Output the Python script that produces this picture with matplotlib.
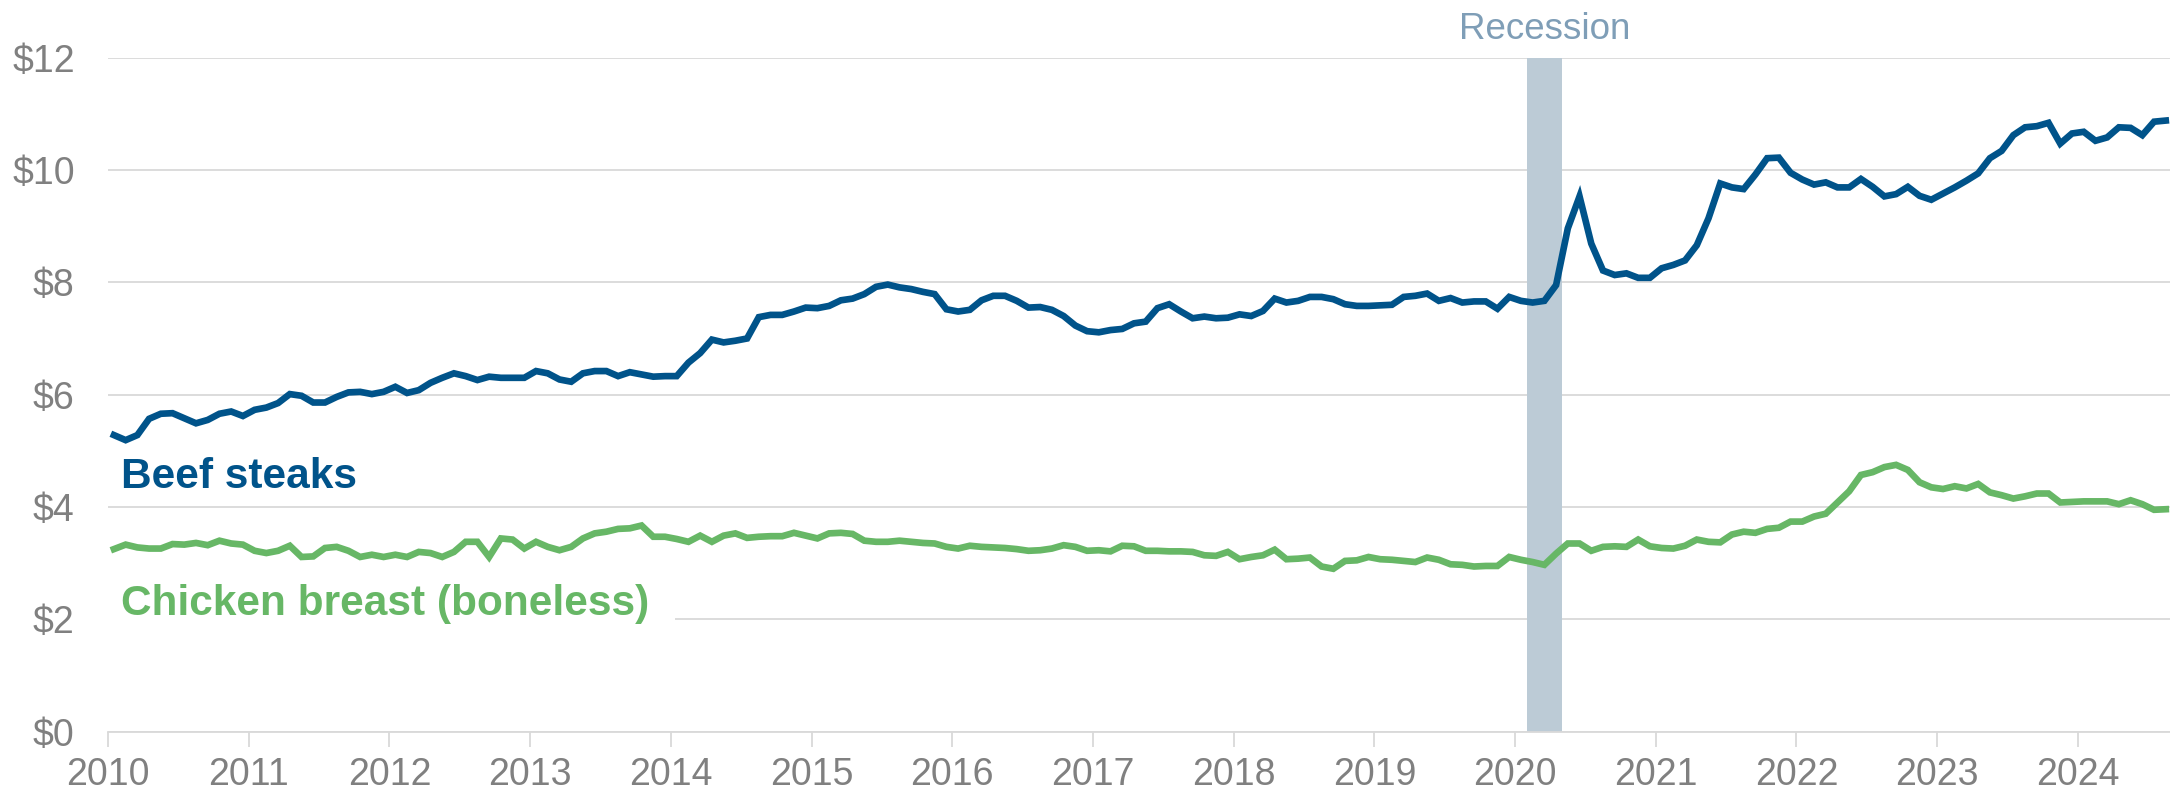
import matplotlib.pyplot as plt
import numpy as np

plt.rcParams['font.family'] = ['Liberation Sans', 'DejaVu Sans']

# monthly average retail prices, Jan 2010 - Aug 2024 ($ per pound)
beef = [
    5.28, 5.19, 5.28, 5.57, 5.66, 5.67, 5.58, 5.49, 5.55, 5.66, 5.70, 5.62,
    5.73, 5.77, 5.85, 6.01, 5.98, 5.86, 5.86, 5.96, 6.04, 6.05, 6.01, 6.05,
    6.14, 6.03, 6.08, 6.21, 6.30, 6.38, 6.33, 6.26, 6.32, 6.30, 6.30, 6.30,
    6.42, 6.38, 6.27, 6.23, 6.38, 6.42, 6.42, 6.33, 6.40, 6.36, 6.32, 6.33,
    6.33, 6.57, 6.74, 6.98, 6.93, 6.96, 7.00, 7.38, 7.42, 7.42, 7.48, 7.55,
    7.54, 7.58, 7.68, 7.71, 7.79, 7.92, 7.96, 7.91, 7.88, 7.83, 7.79, 7.52,
    7.48, 7.51, 7.68, 7.76, 7.76, 7.67, 7.55, 7.56, 7.51, 7.40, 7.23, 7.13,
    7.11, 7.15, 7.17, 7.27, 7.30, 7.54, 7.61, 7.48, 7.36, 7.39, 7.36, 7.37,
    7.43, 7.40, 7.49, 7.71, 7.64, 7.67, 7.74, 7.74, 7.70, 7.61, 7.58, 7.58,
    7.59, 7.60, 7.74, 7.76, 7.80, 7.67, 7.72, 7.64, 7.66, 7.66, 7.53, 7.74,
    7.67, 7.64, 7.67, 7.95, 8.96, 9.53, 8.69, 8.21, 8.13, 8.16, 8.08, 8.08,
    8.25, 8.31, 8.39, 8.66, 9.14, 9.76, 9.69, 9.66, 9.92, 10.21, 10.22, 9.95,
    9.83, 9.74, 9.78, 9.69, 9.69, 9.84, 9.70, 9.53, 9.57, 9.70, 9.54, 9.47,
    9.58, 9.69, 9.81, 9.94, 10.21, 10.34, 10.62, 10.76, 10.78, 10.84, 10.47, 10.65,
    10.68, 10.52, 10.58, 10.76, 10.75, 10.62, 10.86, 10.88,
]
chicken = [
    3.25, 3.33, 3.28, 3.26, 3.26, 3.34, 3.33, 3.36, 3.32, 3.40, 3.35, 3.33,
    3.22, 3.18, 3.22, 3.31, 3.11, 3.12, 3.27, 3.29, 3.22, 3.11, 3.15, 3.11,
    3.15, 3.11, 3.20, 3.18, 3.11, 3.20, 3.38, 3.38, 3.11, 3.44, 3.42, 3.26,
    3.38, 3.29, 3.23, 3.29, 3.44, 3.53, 3.56, 3.61, 3.62, 3.67, 3.47, 3.47,
    3.43, 3.38, 3.49, 3.38, 3.49, 3.53, 3.45, 3.47, 3.48, 3.48, 3.54, 3.49,
    3.44, 3.53, 3.54, 3.52, 3.40, 3.38, 3.38, 3.40, 3.38, 3.36, 3.35, 3.29,
    3.26, 3.31, 3.29, 3.28, 3.27, 3.25, 3.22, 3.23, 3.26, 3.32, 3.29, 3.22,
    3.23, 3.21, 3.31, 3.30, 3.22, 3.22, 3.21, 3.21, 3.20, 3.14, 3.13, 3.20,
    3.07, 3.11, 3.14, 3.24, 3.07, 3.08, 3.10, 2.94, 2.90, 3.04, 3.05, 3.11,
    3.07, 3.06, 3.04, 3.02, 3.10, 3.06, 2.98, 2.97, 2.94, 2.95, 2.95, 3.11,
    3.06, 3.02, 2.97, 3.17, 3.35, 3.35, 3.22, 3.29, 3.30, 3.29, 3.42, 3.30,
    3.27, 3.26, 3.31, 3.42, 3.38, 3.37, 3.51, 3.56, 3.54, 3.61, 3.63, 3.74,
    3.74, 3.83, 3.88, 4.08, 4.28, 4.57, 4.62, 4.71, 4.75, 4.66, 4.44, 4.35,
    4.32, 4.37, 4.33, 4.41, 4.26, 4.21, 4.15, 4.19, 4.24, 4.24, 4.08, 4.09,
    4.10, 4.10, 4.10, 4.05, 4.12, 4.05, 3.95, 3.96,
]
start_year = 2010
years = list(range(2010, 2025))
yticks = [0, 2, 4, 6, 8, 10, 12]
recession = (2020 + 1 / 12, 2020 + 4 / 12)  # Feb - Apr 2020

BLUE = "#00538a"
GREEN = "#67b766"
GRAY = "#808080"
GRID = "#d9d9d9"

# plot each month at mid-month
x = start_year + (np.arange(len(beef)) + 0.5) / 12

fig = plt.figure(figsize=(21.7, 7.92), dpi=100)
ax = fig.add_axes([0.0498, 0.0762, 0.9502, 0.851])

ax.axvspan(recession[0], recession[1], color="#bccbd6", lw=0, zorder=1)
ax.plot(x, beef, color=BLUE, lw=4.8, solid_joinstyle="miter", zorder=4)
ax.plot(x, chicken, color=GREEN, lw=4.8, solid_joinstyle="miter", zorder=4)

ax.set_xlim(2010, 2024.655)
ax.set_ylim(0, 12)
ax.set_yticks(yticks)
ax.set_yticklabels([f"${v}" for v in yticks])
ax.set_xticks(years)
ax.set_xticklabels([str(y) for y in years])

ax.grid(axis="y", color=GRID, lw=1.3, zorder=0)
ax.set_axisbelow(True)
for s in ["top", "right", "left"]:
    ax.spines[s].set_visible(False)
ax.spines["bottom"].set_color(GRID)
ax.spines["bottom"].set_linewidth(1.3)
ax.tick_params(axis="y", length=0, pad=24, labelsize=27, labelcolor=GRAY)
ax.tick_params(axis="x", length=11, width=1.3, color=GRID, pad=7,
               labelsize=27, labelcolor=GRAY)

ax.text(2010.095, 4.33, "Beef steaks", color=BLUE, fontsize=30.5,
        fontweight="bold", va="baseline", ha="left", zorder=3)
ax.text(2010.095, 2.08, "Chicken breast (boneless)", color=GREEN, fontsize=30.5,
        fontweight="bold", va="baseline", ha="left", zorder=3,
        bbox=dict(facecolor="white", edgecolor="none", pad=18))

ax.annotate("Recession", xy=(sum(recession) / 2, 1 + 19 / 674),
            xycoords=("data", "axes fraction"), ha="center", va="baseline",
            fontsize=26.5, color="#7f9eb7", annotation_clip=False)

fig.savefig("out.png", dpi=100)
